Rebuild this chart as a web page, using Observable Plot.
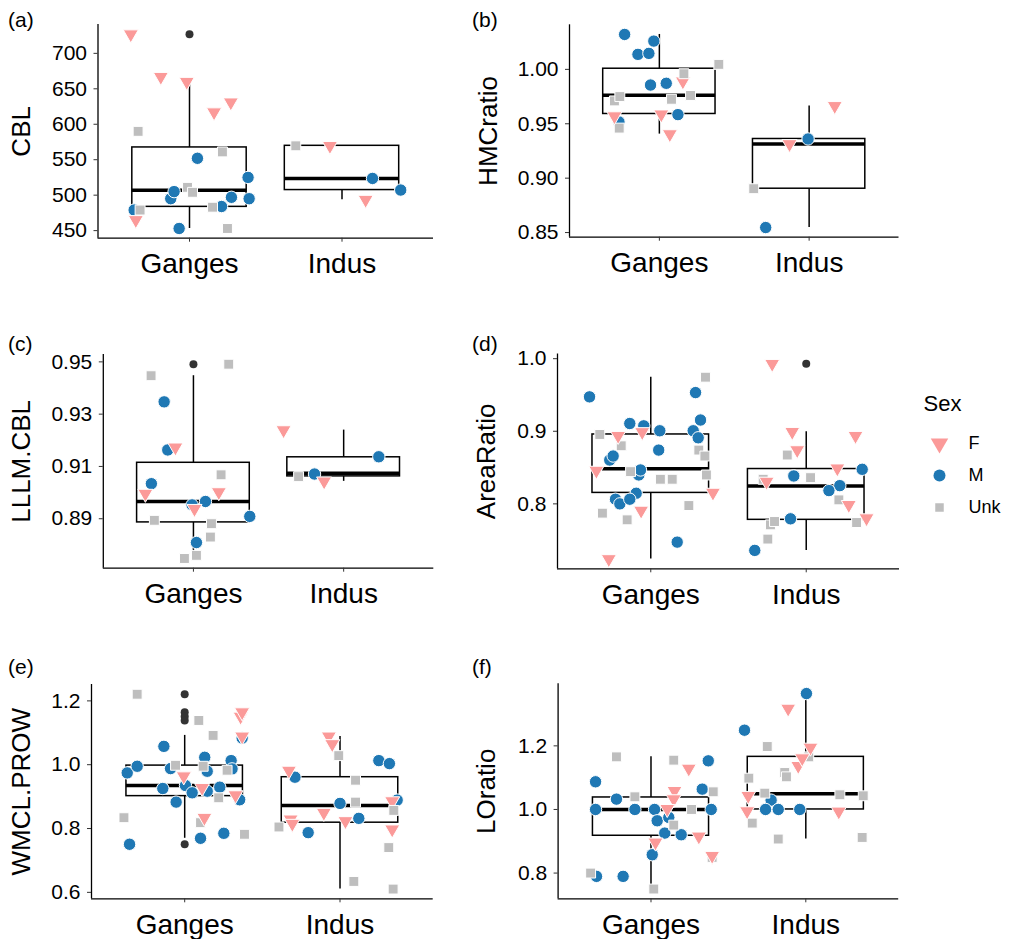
<!DOCTYPE html>
<html>
<head>
<meta charset="utf-8">
<script src="https://cdn.jsdelivr.net/npm/d3@7"></script>
<script src="https://cdn.jsdelivr.net/npm/@observablehq/plot@0.6"></script>
<style>
  body { margin: 0; background: #fff; font-family: "Liberation Sans", Arial, Helvetica, sans-serif; }
  #root { position: relative; width: 1011px; height: 939px; overflow: hidden; background: #fff; }
  .cell { position: absolute; }
  .cell svg { overflow: visible; }
  .tag { position: absolute; font-size: 21px; line-height: 1; color: #000; }
</style>
</head>
<body>
<div id="root"></div>
<script>
// ---------- categories ----------
const groups = ["Ganges", "Indus"];
const sexes = ["F", "M", "Unk"];
const sexColors = ["#FB9A99", "#1F78B4", "#BEBEBE"];
const sexSymbols = ["triangle", "circle", "square"];

// ---------- (a) CBL ----------  [group, jitter, value, sex]
const cblPoints = [
  ["Ganges", -0.385, 727, "F"], ["Ganges", -0.188, 667, "F"], ["Ganges", -0.018, 660, "F"],
  ["Ganges", 0.161, 617, "F"], ["Ganges", 0.271, 631, "F"], ["Ganges", -0.352, 465, "F"],
  ["Ganges", -0.337, 590, "Unk"], ["Ganges", 0.216, 561, "Unk"], ["Ganges", -0.013, 511, "Unk"],
  ["Ganges", -0.324, 479, "Unk"], ["Ganges", 0.151, 483, "Unk"], ["Ganges", 0.249, 453, "Unk"],
  ["Ganges", -0.363, 479, "M"], ["Ganges", 0.052, 552, "M"], ["Ganges", -0.123, 495, "M"],
  ["Ganges", -0.101, 505, "M"], ["Ganges", -0.068, 453, "M"], ["Ganges", 0.21, 484, "M"],
  ["Ganges", 0.275, 497, "M"], ["Ganges", 0.384, 525, "M"], ["Ganges", 0.391, 495, "M"],
  ["Ganges", 0.02, 504, "Unk"],
  ["Indus", -0.303, 569.6, "Unk"], ["Indus", -0.079, 569.6, "F"], ["Indus", 0.2, 523.6, "M"],
  ["Indus", 0.385, 507.2, "M"], ["Indus", 0.155, 493.6, "F"]
];
// [group, lower whisker, q1, median, q3, upper whisker]
const cblBoxes = [["Ganges", 453, 483.5, 506.8, 567.3, 660], ["Indus", 493.6, 507.2, 523.6, 569.6, 569.6]];
const cblOutliers = [["Ganges", 727]];
const cblTicks = [450, 500, 550, 600, 650, 700];

// ---------- (b) HMCratio ----------
const hmcPoints = [
  ["Ganges", -0.30, 0.971, "Unk"], ["Ganges", -0.264, 0.975, "Unk"], ["Ganges", -0.268, 0.946, "Unk"],
  ["Ganges", -0.27, 0.9517, "M"], ["Ganges", -0.30, 0.957, "F"],
  ["Ganges", -0.232, 1.0321, "M"], ["Ganges", -0.143, 1.0138, "M"], ["Ganges", -0.07, 1.0147, "M"],
  ["Ganges", -0.037, 1.026, "M"], ["Ganges", -0.059, 0.9856, "M"], ["Ganges", 0.046, 0.9872, "M"],
  ["Ganges", 0.124, 0.9584, "M"], ["Ganges", 0.013, 0.9587, "F"], ["Ganges", 0.07, 0.9405, "F"],
  ["Ganges", 0.157, 0.989, "F"], ["Ganges", 0.164, 0.996, "Unk"], ["Ganges", 0.081, 0.9725, "Unk"],
  ["Ganges", 0.208, 0.976, "Unk"], ["Ganges", 0.397, 1.0046, "Unk"],
  ["Indus", 0.171, 0.9664, "F"], ["Indus", -0.131, 0.9314, "F"], ["Indus", -0.007, 0.936, "M"],
  ["Indus", -0.37, 0.8903, "Unk"], ["Indus", -0.29, 0.8546, "M"]
];
const hmcBoxes = [["Ganges", 0.9405, 0.959, 0.9761, 1.0006, 1.0321], ["Indus", 0.8546, 0.8903, 0.9314, 0.936, 0.9664]];
const hmcOutliers = [];
const hmcTicks = [0.85, 0.90, 0.95, 1.00];

// ---------- (c) LLLM.CBL ----------
const lllmPoints = [
  ["Ganges", -0.282, 0.9447, "Unk"], ["Ganges", 0.235, 0.9491, "Unk"], ["Ganges", -0.26, 0.8894, "Unk"],
  ["Ganges", 0.184, 0.9068, "Unk"], ["Ganges", 0.12, 0.8881, "Unk"], ["Ganges", 0.113, 0.883, "Unk"],
  ["Ganges", -0.06, 0.8748, "Unk"], ["Ganges", 0.02, 0.876, "Unk"],
  ["Ganges", -0.12, 0.9173, "F"], ["Ganges", -0.32, 0.8996, "F"], ["Ganges", 0.007, 0.8938, "F"],
  ["Ganges", 0.169, 0.9002, "F"],
  ["Ganges", -0.195, 0.9347, "M"], ["Ganges", -0.171, 0.9163, "M"], ["Ganges", -0.28, 0.9034, "M"],
  ["Ganges", -0.009, 0.8953, "M"], ["Ganges", 0.08, 0.8966, "M"], ["Ganges", 0.375, 0.8909, "M"],
  ["Ganges", 0.02, 0.8809, "M"],
  ["Indus", -0.40, 0.9239, "F"], ["Indus", 0.234, 0.9137, "M"], ["Indus", -0.30, 0.9061, "Unk"],
  ["Indus", -0.13, 0.9043, "F"], ["Indus", -0.194, 0.9071, "M"]
];
const lllmBoxes = [["Ganges", 0.8748, 0.8886, 0.8966, 0.9114, 0.9447], ["Indus", 0.9043, 0.9062, 0.9074, 0.9135, 0.9239]];
const lllmOutliers = [["Ganges", 0.9491]];
const lllmTicks = [0.89, 0.91, 0.93, 0.95];

// ---------- (d) AreaRatio ----------
const areaPoints = [
  ["Ganges", -0.328, 0.8956, "Unk"], ["Ganges", -0.19, 0.880, "Unk"], ["Ganges", -0.13, 0.8444, "Unk"],
  ["Ganges", 0.062, 0.8339, "Unk"], ["Ganges", 0.138, 0.8339, "Unk"], ["Ganges", -0.311, 0.7872, "Unk"],
  ["Ganges", -0.152, 0.778, "Unk"], ["Ganges", 0.245, 0.7977, "Unk"], ["Ganges", 0.309, 0.8741, "Unk"],
  ["Ganges", 0.348, 0.8659, "Unk"], ["Ganges", 0.358, 0.8398, "Unk"], ["Ganges", 0.352, 0.9745, "Unk"],
  ["Ganges", -0.21, 0.8938, "F"], ["Ganges", -0.055, 0.8990, "F"], ["Ganges", -0.35, 0.8458, "F"],
  ["Ganges", -0.062, 0.7908, "F"], ["Ganges", 0.40, 0.8155, "F"], ["Ganges", -0.27, 0.724, "F"],
  ["Ganges", -0.394, 0.9474, "M"], ["Ganges", -0.135, 0.9107, "M"], ["Ganges", -0.045, 0.9075, "M"],
  ["Ganges", 0.058, 0.9007, "M"], ["Ganges", 0.051, 0.8741, "M"], ["Ganges", -0.264, 0.8604, "M"],
  ["Ganges", -0.242, 0.8659, "M"], ["Ganges", -0.084, 0.8412, "M"], ["Ganges", -0.077, 0.8398, "M"],
  ["Ganges", -0.066, 0.8467, "M"], ["Ganges", -0.094, 0.8146, "M"], ["Ganges", -0.227, 0.8064, "M"],
  ["Ganges", -0.199, 0.800, "M"], ["Ganges", -0.135, 0.8064, "M"], ["Ganges", 0.17, 0.7473, "M"],
  ["Ganges", 0.288, 0.9533, "M"], ["Ganges", 0.32, 0.9155, "M"], ["Ganges", 0.273, 0.9007, "M"],
  ["Ganges", 0.305, 0.891, "M"],
  ["Indus", -0.122, 0.8673, "Unk"], ["Indus", 0.028, 0.8361, "Unk"], ["Indus", -0.277, 0.8339, "Unk"],
  ["Indus", 0.21, 0.8055, "Unk"], ["Indus", 0.324, 0.7743, "Unk"], ["Indus", -0.23, 0.7711, "Unk"],
  ["Indus", -0.204, 0.7757, "Unk"], ["Indus", -0.247, 0.7515, "Unk"],
  ["Indus", -0.219, 0.993, "F"], ["Indus", -0.09, 0.8993, "F"], ["Indus", -0.058, 0.8741, "F"],
  ["Indus", 0.2, 0.849, "F"], ["Indus", 0.317, 0.8938, "F"], ["Indus", 0.274, 0.7986, "F"],
  ["Indus", 0.388, 0.7803, "F"], ["Indus", -0.255, 0.8307, "F"],
  ["Indus", -0.08, 0.8384, "M"], ["Indus", 0.216, 0.8251, "M"], ["Indus", 0.146, 0.8183, "M"],
  ["Indus", 0.36, 0.8476, "M"], ["Indus", -0.101, 0.7794, "M"], ["Indus", -0.331, 0.7359, "M"]
];
const areaBoxes = [["Ganges", 0.724, 0.8151, 0.8485, 0.8956, 0.9745], ["Indus", 0.7359, 0.778, 0.8247, 0.848, 0.8993]];
const areaOutliers = [["Indus", 0.993]];
const areaTicks = [0.8, 0.9, 1.0];

// ---------- (e) WMCL.PROW ----------
const wmclPoints = [
  ["Ganges", -0.306, 1.2208, "Unk"], ["Ganges", 0.091, 1.1386, "Unk"], ["Ganges", 0.183, 1.0918, "Unk"],
  ["Ganges", -0.059, 0.9982, "Unk"], ["Ganges", 0.119, 0.9951, "Unk"], ["Ganges", 0.273, 0.9826, "Unk"],
  ["Ganges", -0.391, 0.8339, "Unk"], ["Ganges", 0.385, 0.7819, "Unk"], ["Ganges", 0.219, 0.8963, "Unk"],
  ["Ganges", 0.102, 0.8183, "Unk"],
  ["Ganges", -0.37, 0.9743, "M"], ["Ganges", -0.306, 0.9951, "M"], ["Ganges", -0.134, 1.0575, "M"],
  ["Ganges", -0.091, 0.9878, "M"], ["Ganges", -0.141, 0.9254, "M"], ["Ganges", -0.055, 0.8828, "M"],
  ["Ganges", 0.005, 0.9348, "M"], ["Ganges", 0.048, 0.9119, "M"], ["Ganges", 0.129, 1.0232, "M"],
  ["Ganges", 0.145, 0.9795, "M"], ["Ganges", 0.145, 0.917, "M"], ["Ganges", 0.226, 0.9296, "M"],
  ["Ganges", 0.299, 1.0128, "M"], ["Ganges", 0.305, 0.9868, "M"], ["Ganges", 0.354, 0.8901, "M"],
  ["Ganges", -0.355, 0.7507, "M"], ["Ganges", 0.102, 0.7694, "M"],
  ["Ganges", 0.252, 0.785, "M"],
  ["Ganges", 0.36, 1.151, "F"], ["Ganges", 0.37, 1.1646, "F"], ["Ganges", 0.37, 1.0887, "F"],
  ["Ganges", -0.006, 0.9639, "F"], ["Ganges", 0.112, 0.9275, "F"], ["Ganges", 0.127, 0.8339, "F"],
  ["Ganges", 0.327, 0.9046, "F"], ["Ganges", 0.37, 1.0835, "M"],
  ["Indus", -0.072, 1.0887, "F"], ["Indus", -0.05, 1.0648, "F"], ["Indus", -0.329, 0.9816, "F"],
  ["Indus", -0.318, 0.8287, "F"], ["Indus", -0.307, 0.8152, "F"], ["Indus", -0.104, 0.8495, "F"],
  ["Indus", 0.035, 0.8235, "F"], ["Indus", 0.336, 0.7975, "F"], ["Indus", 0.336, 0.8859, "F"],
  ["Indus", -0.008, 1.0284, "Unk"], ["Indus", 0.1, 0.9514, "Unk"], ["Indus", 0.1, 0.8828, "Unk"],
  ["Indus", -0.393, 0.8048, "Unk"], ["Indus", 0.346, 0.8568, "Unk"], ["Indus", 0.314, 0.7403, "Unk"],
  ["Indus", 0.089, 0.6342, "Unk"], ["Indus", 0.342, 0.6103, "Unk"],
  ["Indus", -0.29, 0.9608, "M"], ["Indus", 0.0, 0.8787, "M"], ["Indus", 0.121, 0.8319, "M"],
  ["Indus", -0.205, 0.787, "M"], ["Indus", 0.25, 1.0128, "M"], ["Indus", 0.318, 1.0034, "M"],
  ["Indus", 0.368, 0.8891, "M"]
];
const wmclBoxes = [["Ganges", 0.7694, 0.9015, 0.935, 0.9972, 1.0918], ["Indus", 0.6103, 0.8183, 0.8724, 0.9608, 1.0887]];
const wmclOutliers = [["Ganges", 1.2208], ["Ganges", 1.1646], ["Ganges", 1.151], ["Ganges", 1.1386], ["Ganges", 0.7507]];
const wmclTicks = [0.6, 0.8, 1.0, 1.2];

// ---------- (f) LOratio ----------
const loPoints = [
  ["Ganges", -0.223, 1.1654, "Unk"], ["Ganges", -0.104, 1.0398, "Unk"], ["Ganges", 0.147, 1.155, "Unk"],
  ["Ganges", 0.262, 1.0, "Unk"], ["Ganges", 0.402, 1.0555, "Unk"], ["Ganges", 0.147, 0.9508, "Unk"],
  ["Ganges", -0.39, 0.80, "Unk"], ["Ganges", 0.395, 0.8493, "Unk"], ["Ganges", 0.018, 0.7498, "Unk"],
  ["Ganges", 0.152, 1.0586, "F"], ["Ganges", 0.147, 1.0325, "F"], ["Ganges", 0.244, 1.1288, "F"],
  ["Ganges", 0.309, 0.9152, "F"], ["Ganges", 0.395, 0.8545, "F"], ["Ganges", 0.029, 0.8964, "F"],
  ["Ganges", 0.105, 1.002, "F"],
  ["Ganges", -0.358, 1.087, "M"], ["Ganges", -0.223, 1.0325, "M"], ["Ganges", -0.358, 1.0, "M"],
  ["Ganges", -0.104, 1.0, "M"], ["Ganges", 0.023, 1.0, "M"], ["Ganges", 0.389, 1.0, "M"],
  ["Ganges", 0.04, 0.9644, "M"], ["Ganges", 0.115, 0.9749, "M"], ["Ganges", 0.089, 0.9257, "M"],
  ["Ganges", 0.195, 0.9205, "M"], ["Ganges", 0.008, 0.8576, "M"], ["Ganges", 0.331, 1.0639, "M"],
  ["Ganges", 0.37, 1.1529, "M"], ["Ganges", -0.352, 0.7896, "M"], ["Ganges", -0.18, 0.7896, "M"],
  ["Indus", -0.249, 1.1979, "Unk"], ["Indus", 0.019, 1.1654, "Unk"], ["Indus", -0.368, 1.0984, "Unk"],
  ["Indus", -0.136, 1.1162, "Unk"], ["Indus", -0.125, 1.1026, "Unk"], ["Indus", -0.265, 1.0513, "Unk"],
  ["Indus", 0.22, 1.0461, "Unk"], ["Indus", 0.371, 1.043, "Unk"], ["Indus", -0.346, 0.9571, "Unk"],
  ["Indus", -0.178, 0.907, "Unk"], ["Indus", 0.364, 0.912, "Unk"],
  ["Indus", -0.114, 1.3173, "F"], ["Indus", 0.03, 1.1948, "F"], ["Indus", -0.049, 1.1372, "F"],
  ["Indus", -0.023, 1.1613, "F"], ["Indus", -0.372, 1.043, "F"], ["Indus", -0.379, 0.9948, "F"],
  ["Indus", 0.213, 0.9937, "F"],
  ["Indus", 0.004, 1.3644, "M"], ["Indus", -0.396, 1.2492, "M"], ["Indus", -0.224, 1.0293, "M"],
  ["Indus", -0.26, 1.0, "M"], ["Indus", -0.178, 1.0, "M"], ["Indus", -0.039, 1.0, "M"]
];
const loBoxes = [["Ganges", 0.7498, 0.9173, 1.0, 1.0377, 1.1654], ["Indus", 0.907, 1.0, 1.0492, 1.1654, 1.3644]];
const loOutliers = [];
const loTicks = [0.8, 1.0, 1.2];

// ---------- layout ----------
const FONT = "'Liberation Sans', Arial, Helvetica, sans-serif";
const pointR = {F: 5.6, M: 6.2, Unk: 5.6};
const HALF = 0.375; // half box width (x units)

const panels = [
  {tag: "(a)", title: "CBL", points: cblPoints, boxes: cblBoxes, outliers: cblOutliers, ticks: cblTicks, fmt: d3.format("d"),
   cell: {x: 0, y: 0, w: 455, h: 300}, frame: {x1: 97.5, x2: 433, y1: 24, y2: 237.7}, titleX: 21, tagPos: [8, 9]},
  {tag: "(b)", title: "HMCratio", points: hmcPoints, boxes: hmcBoxes, outliers: hmcOutliers, ticks: hmcTicks, fmt: d3.format(".2f"),
   cell: {x: 460, y: 0, w: 445, h: 300}, frame: {x1: 569, x2: 898.5, y1: 24.3, y2: 236.7}, titleX: 488, tagPos: [472, 9]},
  {tag: "(c)", title: "LLLM.CBL", points: lllmPoints, boxes: lllmBoxes, outliers: lllmOutliers, ticks: lllmTicks, fmt: d3.format(".2f"),
   cell: {x: 0, y: 310, w: 455, h: 320}, frame: {x1: 102.8, x2: 433.3, y1: 354, y2: 567.7}, titleX: 21, tagPos: [8, 333]},
  {tag: "(d)", title: "AreaRatio", points: areaPoints, boxes: areaBoxes, outliers: areaOutliers, ticks: areaTicks, fmt: d3.format(".1f"),
   cell: {x: 460, y: 310, w: 445, h: 320}, frame: {x1: 557, x2: 899, y1: 353.5, y2: 568.3}, titleX: 486, tagPos: [472, 333]},
  {tag: "(e)", title: "WMCL.PROW", points: wmclPoints, boxes: wmclBoxes, outliers: wmclOutliers, ticks: wmclTicks, fmt: d3.format(".1f"),
   cell: {x: 0, y: 640, w: 455, h: 299}, frame: {x1: 91, x2: 432.7, y1: 684, y2: 898.3}, titleX: 21, tagPos: [8, 656]},
  {tag: "(f)", title: "LOratio", points: loPoints, boxes: loBoxes, outliers: loOutliers, ticks: loTicks, fmt: d3.format(".1f"),
   cell: {x: 460, y: 640, w: 445, h: 299}, frame: {x1: 557.6, x2: 898.2, y1: 683.3, y2: 898.3}, titleX: 486, tagPos: [472, 656]}
];

const root = document.getElementById("root");
const gi = g => groups.indexOf(g) + 1;

function makePanel(p) {
  const values = p.points.map(d => d[2]);
  const [lo, hi] = d3.extent(values);
  const pad = (hi - lo) * 0.05;
  const yDomain = [lo - pad, hi + pad];
  const pts = p.points.map(([g, j, v, s]) => ({x: gi(g) + j, y: v, sex: s}));
  const bx = p.boxes.map(([g, w0, q1, med, q3, w1]) => ({x: gi(g), w0, q1, med, q3, w1}));
  const out = p.outliers.map(([g, v]) => ({x: gi(g), y: v}));
  const {cell, frame} = p;
  const plot = Plot.plot({
    width: cell.w, height: cell.h,
    marginLeft: frame.x1 - cell.x, marginRight: cell.x + cell.w - frame.x2,
    marginTop: frame.y1 - cell.y, marginBottom: cell.y + cell.h - frame.y2,
    x: {type: "linear", domain: [0.4, 2.6]},
    y: {domain: yDomain},
    r: {type: "identity"},
    symbol: {domain: sexes, range: sexSymbols},
    color: {domain: sexes, range: sexColors},
    style: {fontFamily: FONT, background: "transparent", color: "#000", overflow: "visible"},
    marks: [
      Plot.ruleX(bx, {x: "x", y1: "w0", y2: "q1", stroke: "#000", strokeWidth: 1.5}),
      Plot.ruleX(bx, {x: "x", y1: "q3", y2: "w1", stroke: "#000", strokeWidth: 1.5}),
      Plot.rect(bx, {x1: d => d.x - HALF, x2: d => d.x + HALF, y1: "q1", y2: "q3", fill: "white", stroke: "#000", strokeWidth: 1.5}),
      Plot.ruleY(bx, {y: "med", x1: d => d.x - HALF, x2: d => d.x + HALF, stroke: "#000", strokeWidth: 3.5}),
      Plot.dot(out, {x: "x", y: "y", r: 4, fill: "#333", stroke: null}),
      Plot.dot(pts, {x: "x", y: "y", symbol: "sex", fill: "sex", r: d => pointR[d.sex],
                     rotate: d => d.sex === "F" ? 180 : 0, stroke: "white", strokeWidth: 1}),
      Plot.ruleX([0.4], {stroke: "#000", strokeWidth: 1.3}),
      Plot.ruleY([yDomain[0]], {stroke: "#000", strokeWidth: 1.3}),
      Plot.axisY({ticks: p.ticks, tickFormat: p.fmt, tickSize: 4, tickPadding: 7, fontSize: 21, label: null, stroke: "#333"}),
      Plot.axisX({ticks: [1, 2], tickFormat: i => groups[i - 1], tickSize: 4, tickPadding: 11, fontSize: 28, label: null, stroke: "#333"}),
      Plot.text([p.title], {frameAnchor: "left", textAnchor: "middle", rotate: -90, dx: p.titleX - frame.x1, fontSize: 26, fill: "#000"})
    ]
  });
  const div = document.createElement("div");
  div.className = "cell";
  div.style.left = cell.x + "px";
  div.style.top = cell.y + "px";
  div.appendChild(plot);
  root.appendChild(div);

  const tag = document.createElement("div");
  tag.className = "tag";
  tag.style.left = p.tagPos[0] + "px";
  tag.style.top = p.tagPos[1] + "px";
  tag.textContent = p.tag;
  root.appendChild(tag);
}
panels.forEach(makePanel);

// ---------- legend ----------
const legendR = {F: 6.5, M: 6, Unk: 4.8};
const legend = Plot.plot({
  width: 106, height: 150, margin: 0,
  y: {type: "point", domain: sexes, range: [67, 132], padding: 0, axis: null},
  r: {type: "identity"},
  symbol: {domain: sexes, range: sexSymbols},
  color: {domain: sexes, range: sexColors},
  style: {fontFamily: FONT, background: "transparent", color: "#000", overflow: "visible"},
  marks: [
    Plot.text(["Sex"], {frameAnchor: "top-left", dx: 18, dy: 20, lineAnchor: "top", fontSize: 22, fill: "#000"}),
    Plot.dot(sexes, {frameAnchor: "left", dx: 34, y: d => d, symbol: d => d, fill: d => d, r: d => legendR[d],
                     rotate: d => d === "F" ? 180 : 0, stroke: null}),
    Plot.text(sexes, {frameAnchor: "left", dx: 63, y: d => d, text: d => d, textAnchor: "start", fontSize: 18, fill: "#000"})
  ]
});
const ldiv = document.createElement("div");
ldiv.className = "cell";
ldiv.style.left = "905px";
ldiv.style.top = "375px";
ldiv.appendChild(legend);
root.appendChild(ldiv);
</script>
</body>
</html>
